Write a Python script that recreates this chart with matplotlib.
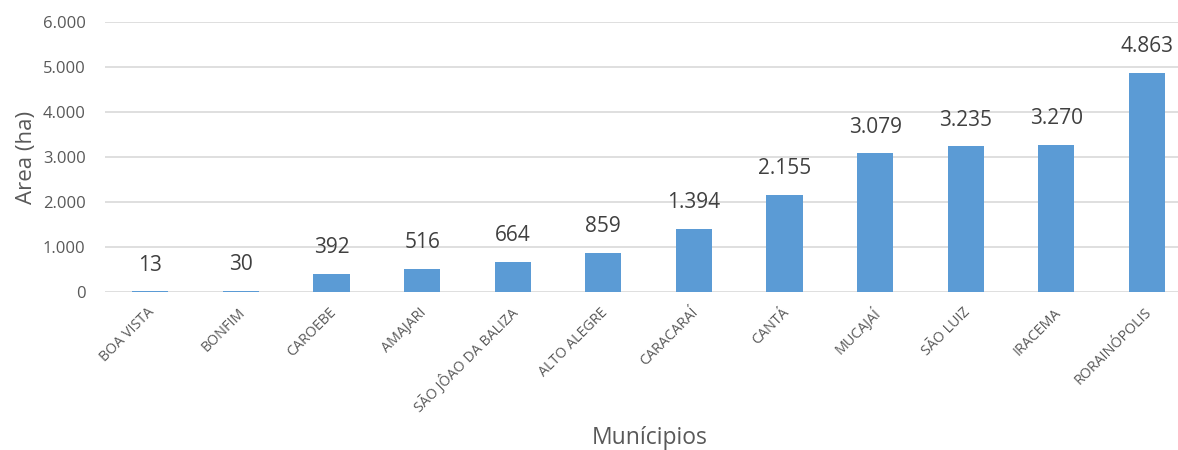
import matplotlib.pyplot as plt
from matplotlib.ticker import FuncFormatter
from matplotlib.transforms import ScaledTranslation

# area per municipality (ha)
municipios = ['BOA VISTA', 'BONFIM', 'CAROEBE', 'AMAJARI', 'SÃO JÔAO DA BALIZA',
              'ALTO ALEGRE', 'CARACARAÍ', 'CANTÁ', 'MUCAJAÍ', 'SÃO LUIZ',
              'IRACEMA', 'RORAINÓPOLIS']
area = [13, 30, 392, 516, 664, 859, 1394, 2155, 3079, 3235, 3270, 4863]
yticks = [0, 1000, 2000, 3000, 4000, 5000, 6000]

plt.rcParams['font.family'] = ['Open Sans', 'DejaVu Sans']


def fmt(v, pos=None):
    # thousands with a dot, as in pt-BR
    return f'{int(v):,}'.replace(',', '.')


fig = plt.figure(figsize=(11.78, 4.5), dpi=100)
ax = fig.add_axes([105 / 1178, 158 / 450, 1073 / 1178, 270 / 450])

x = range(len(municipios))
ax.bar(x, area, width=0.4, color='#5B9BD5', zorder=3)

for i, v in zip(x, area):
    ax.annotate(fmt(v), (i, v), xytext=(0, 19), textcoords='offset points',
                ha='center', va='center', fontsize=15, color='#404040')

ax.set_xlim(-0.5, -0.5 + 1073 / 90.6)
ax.set_ylim(0, 6000)
ax.set_yticks(yticks)
ax.yaxis.set_major_formatter(FuncFormatter(fmt))
ax.grid(axis='y', color='#D9D9D9', linewidth=1.2, zorder=0)

ax.set_xticks(list(x))
ax.set_xticklabels(municipios, rotation=45, ha='right', rotation_mode='anchor',
                   fontsize=10.3, color='#595959')
ax.tick_params(axis='x', length=0, pad=5)
ax.tick_params(axis='y', length=0, pad=14, labelsize=12, labelcolor='#595959')
# nudge rotated labels so their ends sit under the bars
shift = ScaledTranslation(-3 / 100, -6 / 100, fig.dpi_scale_trans)
for lbl in ax.get_xticklabels():
    lbl.set_transform(lbl.get_transform() + shift)

for s in ax.spines.values():
    s.set_visible(False)

ax.set_ylabel('Area (ha)', fontsize=16, color='#595959', labelpad=4)
fig.text(650 / 1178, 1 - 438 / 450, 'Munícipios', ha='center', va='center',
         fontsize=16.5, color='#595959')

plt.savefig('out.png', dpi=100)
